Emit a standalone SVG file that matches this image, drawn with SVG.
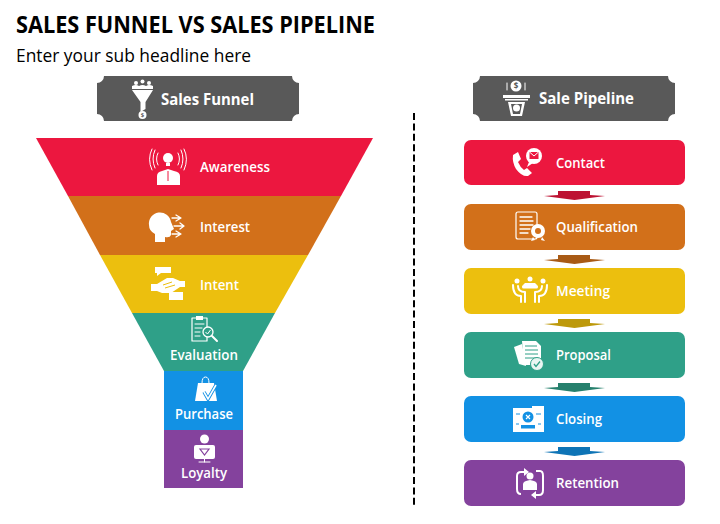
<svg xmlns="http://www.w3.org/2000/svg" width="720" height="524" viewBox="0 0 720 524">
<style>
text{font-family:"Open Sans","Noto Sans","Liberation Sans",sans-serif}
.l{fill:#fff;font-size:14.500px;font-weight:600;lengthAdjust:spacingAndGlyphs}
.h{fill:#fff;font-size:16px;font-weight:700}
.w{fill:#fff}
.s{fill:none;stroke:#fff;stroke-width:1.600;stroke-linecap:round;stroke-linejoin:round}
.plaque{fill:#595959}
</style>
<defs>
<path id="plq" d="M7 0H195A7 7 0 0 0 202 7V38A7 7 0 0 0 195 45H7A7 7 0 0 0 0 38V7A7 7 0 0 0 7 0Z"/>
<path id="arr" d="M14 0H46V4L61 5L30.500 9L0 5L14 4Z"/>
</defs>
<rect width="720" height="524" fill="#fff"/>
<text x="16" y="33" font-size="22.500" font-weight="700" fill="#000" textLength="359" lengthAdjust="spacingAndGlyphs">SALES FUNNEL VS SALES PIPELINE</text>
<text x="16" y="62" font-size="18" fill="#000" textLength="235" lengthAdjust="spacingAndGlyphs">Enter your sub headline here</text>

<g id="header-funnel">
<use href="#plq" x="97" y="76" class="plaque"/>
<path class="w" d="M132 90H153L145.500 102V109L140.500 112V102Z"/>
<circle class="w" cx="136" cy="83" r="2"/><circle class="w" cx="142.500" cy="81.500" r="2"/><circle class="w" cx="149" cy="83" r="2"/>
<path class="w" d="M132 89V86Q136 84 139 86Q142.500 84 146 86Q149 84 153 86V89Z"/>
<circle class="w" cx="142.500" cy="115" r="4"/>
<text x="142.500" y="117" font-size="6" text-anchor="middle" fill="#595959" font-weight="700">$</text>
<text class="h" x="161" y="105" textLength="93" lengthAdjust="spacingAndGlyphs">Sales Funnel</text>
</g>
<g id="header-pipeline">
<use href="#plq" x="473" y="76" class="plaque"/>
<circle class="w" cx="516" cy="86" r="5.500"/>
<text x="516" y="89" font-size="8" text-anchor="middle" fill="#595959" font-weight="700">$</text>
<path class="s" d="M507 83V90M525 83V90" style="stroke-width:1"/>
<rect class="w" x="503" y="95" width="27" height="3"/>
<rect class="w" x="505" y="99" width="23" height="1.500"/>
<path class="w" d="M508 102H525L522 116H511ZM511 104L513 114H520L522 104Z" fill-rule="evenodd"/>
<circle class="w" cx="516.500" cy="108" r="3.500"/>
<text class="h" x="539" y="104" textLength="95" lengthAdjust="spacingAndGlyphs">Sale Pipeline</text>
</g>

<g id="funnel-awareness">
<polygon points="36,138 373,138 341,196 68,196" fill="#ec173f"/>
<path class="w" d="M157 185V176Q157 172 162 171L168 169L174 171Q180 172 180 176V185Z"/>
<path d="M168 171V181" stroke="#ec173f" stroke-width="1"/>
<circle class="w" cx="168" cy="158" r="5"/><rect class="w" x="166" y="163" width="4" height="3"/>
<path class="s" style="stroke-width:1" d="M158 153Q155 159 158 165M178 153Q181 159 178 165M155 150Q151 159 155 168M181 150Q185 159 181 168M152 149Q147 159 152 170M184 149Q189 159 184 170"/>
<text class="l" x="200" y="172" textLength="70" lengthAdjust="spacingAndGlyphs">Awareness</text>
</g>
<g id="funnel-interest">
<polygon points="68,196 341,196 308,255 100,255" fill="#d2701a"/>
<path class="w" d="M149 225A10.500 10.500 0 0 1 171 222L174 229L171 231V235Q170 238 165 237V242H155V234Q149 231 149 225Z"/>
<path class="s" d="M172 218H180M176 215L181 218L176 221M174 226H183M180 223L184 226L180 229M172 234H180M176 231L181 234L176 237" style="stroke-width:1.300"/>
<text class="l" x="200" y="232" textLength="50" lengthAdjust="spacingAndGlyphs">Interest</text>
</g>
<g id="funnel-intent">
<polygon points="100,255 308,255 275,313 132,313" fill="#ecbf0e"/>
<path class="w" d="M155 267H171V273H161L157 276V273H155Z"/>
<path class="w" d="M169 292H183V300H169Z"/>
<path class="w" d="M151 284H157L167 278H173L180 281H185V287H180L171 293H162L157 291H151Z"/>
<path d="M163 285L172 282M165 288L175 285" stroke="#ecbf0e" stroke-width="1"/>
<text class="l" x="200" y="290" textLength="39" lengthAdjust="spacingAndGlyphs">Intent</text>
</g>
<g id="funnel-evaluation">
<polygon points="132,313 275,313 243,371 164,371" fill="#2fa088"/>
<rect x="192" y="318" width="15" height="23" class="s" style="stroke-width:1.200"/>
<rect class="w" x="196" y="316" width="7" height="4"/>
<path class="s" style="stroke-width:1" d="M195 324H204M195 328H202M195 332H200M195 336H200"/>
<circle cx="208" cy="332" r="5" fill="#2fa088" stroke="#fff" stroke-width="1.300"/><path class="s" d="M212 336L217 341" style="stroke-width:2"/>
<path d="M205.500 332L207.500 334L210.500 330" fill="none" stroke="#fff"/>
<text class="l" x="170" y="360" textLength="68" lengthAdjust="spacingAndGlyphs">Evaluation</text>
</g>
<g id="funnel-purchase">
<rect x="164" y="371" width="79" height="59" fill="#1291e4"/>
<path class="w" d="M198 383H214L217 401H195Z"/>
<path class="s" d="M202 383Q202 377 205.500 377Q209 377 209 383" style="stroke-width:1"/>
<path d="M204 392L208 399L216 385" fill="none" stroke="#1291e4" stroke-width="3.500"/>
<path d="M204 392L208 399L216 385" fill="none" stroke="#fff" stroke-width="1.600"/>
<text class="l" x="175" y="419" textLength="58" lengthAdjust="spacingAndGlyphs">Purchase</text>
</g>
<g id="funnel-loyalty">
<rect x="164" y="430" width="79" height="58" fill="#84429d"/>
<circle class="w" cx="204.500" cy="439" r="4.500"/>
<rect class="w" x="194" y="445" width="21" height="14" rx="2"/>
<path d="M200 449H209L204.500 455Z" fill="none" stroke="#84429d" stroke-width="1.200"/>
<path class="s" d="M204.500 459V462M199 462H210" style="stroke-width:1"/>
<text class="l" x="181" y="478" textLength="46" lengthAdjust="spacingAndGlyphs">Loyalty</text>
</g>

<g id="divider"><line x1="414" y1="113" x2="414" y2="507" stroke="#000" stroke-width="2" stroke-dasharray="7 3.400"/></g>

<g id="connectors">
<use href="#arr" x="544" y="191" fill="#bd1232"/>
<use href="#arr" x="544" y="255" fill="#a85a15"/>
<use href="#arr" x="544" y="319" fill="#bd990b"/>
<use href="#arr" x="544" y="383" fill="#26806d"/>
<use href="#arr" x="544" y="447" fill="#0e74b6"/>
</g>

<g id="pipe-contact">
<rect x="464" y="140" width="221" height="45" rx="7" fill="#ec173f"/>
<path class="w" d="M513 155L518 152L521 159L518 162Q520 167 524 170L527 168L532 173L528 176Q522 177 516 169Q512 162 513 155Z"/>
<circle class="w" cx="534" cy="156" r="8"/><path class="w" d="M529 162L527 167L533 163Z"/>
<rect x="529.500" y="152" width="9" height="7" fill="#ec173f"/>
<path d="M529.500 152L534 156L538.500 152" fill="none" stroke="#fff" stroke-width="1"/>
<text class="l" x="556" y="168" textLength="49" lengthAdjust="spacingAndGlyphs">Contact</text>
</g>
<g id="pipe-qualification">
<rect x="464" y="204" width="221" height="46" rx="7" fill="#d2701a"/>
<rect x="516" y="212" width="21" height="27" rx="2" class="s" style="stroke-width:1.200"/>
<path class="s" style="stroke-width:1.300" d="M520 217H532M520 221H533M520 225H533M520 229H530M520 233H528"/>
<path class="w" d="M533 237L531 241L535 240ZM542 237L545 241L541 240Z"/>
<circle class="w" cx="538" cy="231" r="7"/><circle cx="538" cy="231" r="3" fill="#d2701a"/>
<text class="l" x="556" y="232" textLength="82" lengthAdjust="spacingAndGlyphs">Qualification</text>
</g>
<g id="pipe-meeting">
<rect x="464" y="268" width="221" height="46" rx="7" fill="#ecbf0e"/>
<circle class="w" cx="517" cy="281" r="2.500"/><circle class="w" cx="530" cy="279" r="2.500"/><circle class="w" cx="543" cy="281" r="2.500"/>
<path class="w" d="M525 283H535L537 285H523Z"/>
<rect class="w" x="522" y="285" width="16" height="3.500" rx="1.500"/>
<path class="s" style="stroke-width:2" d="M513 285Q513 296 521 296V302M547 285Q547 296 539 296V302"/>
<path class="s" style="stroke-width:2" d="M518 286Q518 292 525 292V302M542 286Q542 292 535 292V302"/>
<text class="l" x="556" y="296" textLength="54" lengthAdjust="spacingAndGlyphs">Meeting</text>
</g>
<g id="pipe-proposal">
<rect x="464" y="332" width="221" height="46" rx="7" fill="#2fa088"/>
<path class="w" d="M514 347L522 344L526 366L519 364Z"/>
<path class="w" d="M522 341H536L541 346V365H524Z"/>
<path stroke="#2fa088" stroke-width="1" d="M525 346H537M525 350H538M525 354H538M525 358H536"/>
<circle cx="537" cy="364" r="6.500" fill="#e9f5f2" stroke="#2fa088"/>
<path d="M534 364L536 366.500L540 361.500" fill="none" stroke="#2fa088" stroke-width="1.300"/>
<text class="l" x="556" y="360" textLength="55" lengthAdjust="spacingAndGlyphs">Proposal</text>
</g>
<g id="pipe-closing">
<rect x="464" y="396" width="221" height="46" rx="7" fill="#1291e4"/>
<path class="w" d="M513 408H532V406H544V432H513Z"/>
<circle cx="528" cy="417" r="5.500" fill="#1291e4"/>
<path d="M526 415L530 419M530 415L526 419" stroke="#fff" stroke-width="1.200"/>
<rect x="521" y="425" width="14" height="3.500" fill="#1291e4"/>
<path d="M516 414H520M536 414H541M516 424H519M538 424H541" stroke="#1291e4"/>
<text class="l" x="556" y="424" textLength="46" lengthAdjust="spacingAndGlyphs">Closing</text>
</g>
<g id="pipe-retention">
<rect x="464" y="460" width="221" height="46" rx="7" fill="#84429d"/>
<path d="M525 472H521Q517 472 517 476V489Q517 494 521 494M536 471H540Q543 471 543 476V490Q543 495 539 495H533" fill="none" stroke="#fff" stroke-width="2"/>
<path class="w" d="M524 468L529 472L524 476ZM536 491L531 495L536 499Z"/>
<circle class="w" cx="530" cy="476" r="3.500"/>
<path class="w" d="M523 490V484Q523 481 530 480Q537 481 537 484V490Z"/>
<text class="l" x="556" y="488" textLength="63" lengthAdjust="spacingAndGlyphs">Retention</text>
</g>
</svg>
